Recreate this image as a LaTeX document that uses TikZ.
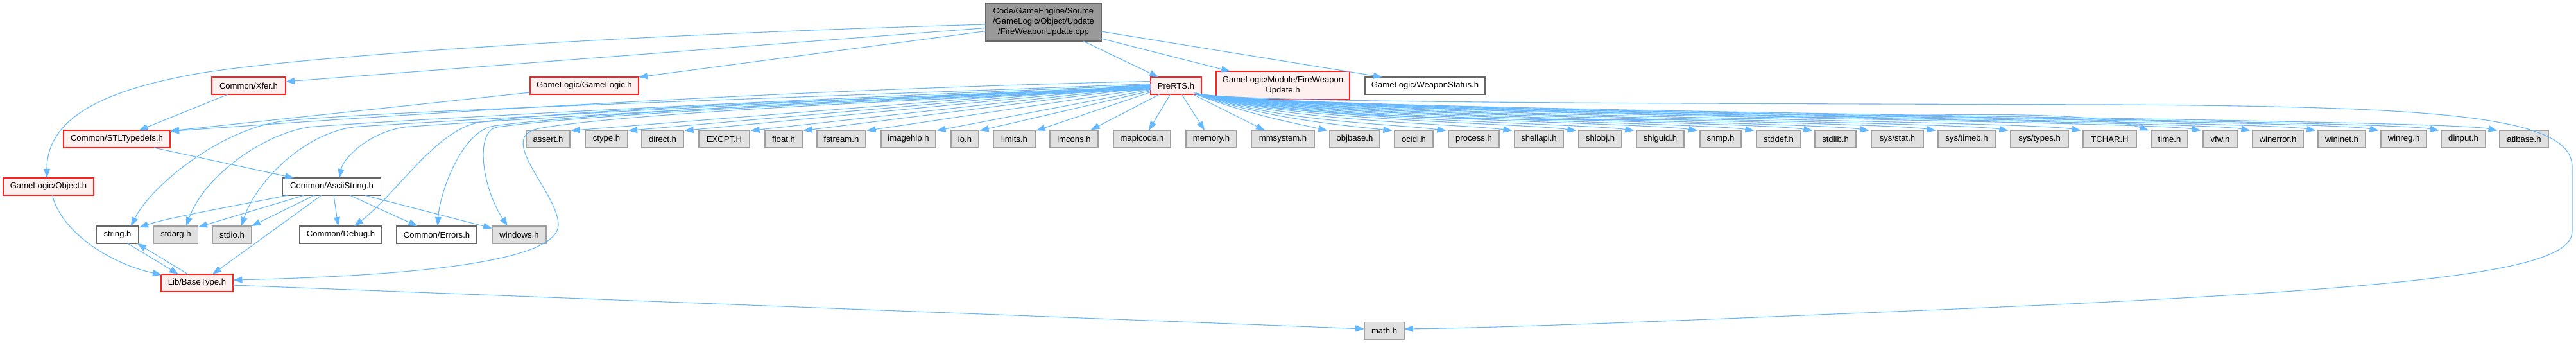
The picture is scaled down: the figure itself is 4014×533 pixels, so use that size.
\documentclass[tikz,border=0pt]{standalone}
\usepackage{fontspec}
\newfontfamily\nf{Liberation Sans}
\usetikzlibrary{arrows.meta}
\definecolor{ecol}{HTML}{63B8FF}
\definecolor{nred}{HTML}{FF2020}
\definecolor{nredfill}{HTML}{FFF0F0}
\definecolor{ngray}{HTML}{A0A0A0}
\definecolor{ngrayfill}{HTML}{E0E0E0}
\definecolor{ndark}{HTML}{666666}
\definecolor{nmain}{HTML}{999999}
\tikzset{
  box/.style={draw, line width=1.2pt, minimum height=27pt, inner sep=0pt, anchor=center,
    font=\nf\fontsize{13.1}{16}\selectfont, align=center},
  redbox/.style={box, draw=nred, fill=nredfill},
  graybox/.style={box, draw=ngray, fill=ngrayfill},
  whitebox/.style={box, draw=ndark, fill=white},
  mainbox/.style={box, draw=ndark, fill=nmain},
  dep/.style={draw=ecol, line width=1.1pt, -{Triangle[length=14pt,width=10pt]}},
}
\begin{document}
\begin{tikzpicture}[x=1pt,y=-1pt]
\fill[white] (0,0) rectangle (4014,533);
\useasboundingbox (0,0) rectangle (4014,533);

% nodes
\node[mainbox, minimum width=180pt, minimum height=59pt] (main) at (1626,34.5) {Code/GameEngine/Source\\/GameLogic/Object/Update\\/FireWeaponUpdate.cpp};
\node[redbox, minimum width=115pt] (xfer) at (387.5,133.5) {Common/Xfer.h};
\node[redbox, minimum width=169pt] (gl) at (910.5,133.5) {GameLogic/GameLogic.h};
\node[redbox, minimum width=79pt] (prerts) at (1832.5,133.5) {PreRTS.h};
\node[redbox, minimum width=208pt, minimum height=44pt] (fwu) at (1999,133) {GameLogic/Module/FireWeapon\\Update.h};
\node[whitebox, minimum width=187pt] (ws) at (2220.5,133.5) {GameLogic/WeaponStatus.h};

\node[redbox, minimum width=166pt] (stl) at (182,216.5) {Common/STLTypedefs.h};
\node[graybox, minimum width=68pt] (assert) at (854,216.5) {assert.h};
\node[graybox, minimum width=65pt] (ctype) at (945,216.5) {ctype.h};
\node[graybox, minimum width=65pt] (direct) at (1032.5,216.5) {direct.h};
\node[graybox, minimum width=79pt] (excpt) at (1128.5,216.5) {EXCPT.H};
\node[graybox, minimum width=58pt] (float) at (1221,216.5) {float.h};
\node[graybox, minimum width=76pt] (fstream) at (1311,216.5) {fstream.h};
\node[graybox, minimum width=85pt] (imagehlp) at (1415.5,216.5) {imagehlp.h};
\node[graybox, minimum width=43pt] (io) at (1503.5,216.5) {io.h};
\node[graybox, minimum width=65pt] (limits) at (1580.5,216.5) {limits.h};
\node[graybox, minimum width=75pt] (lmcons) at (1673.5,216.5) {lmcons.h};
\node[graybox, minimum width=89pt] (mapicode) at (1779.5,216.5) {mapicode.h};
\node[graybox, minimum width=79pt] (memory) at (1887.5,216.5) {memory.h};
\node[graybox, minimum width=98pt] (mmsystem) at (1999,216.5) {mmsystem.h};
\node[graybox, minimum width=78pt] (objbase) at (2111,216.5) {objbase.h};
\node[graybox, minimum width=60pt] (ocidl) at (2203,216.5) {ocidl.h};
\node[graybox, minimum width=79pt] (process) at (2296.5,216.5) {process.h};
\node[graybox, minimum width=76pt] (shellapi) at (2398,216.5) {shellapi.h};
\node[graybox, minimum width=67pt] (shlobj) at (2493.5,216.5) {shlobj.h};
\node[graybox, minimum width=74pt] (shlguid) at (2587,216.5) {shlguid.h};
\node[graybox, minimum width=64pt] (snmp) at (2681,216.5) {snmp.h};
\node[graybox, minimum width=69pt] (stddef) at (2771.5,216.5) {stddef.h};
\node[graybox, minimum width=64pt] (stdlib) at (2860,216.5) {stdlib.h};
\node[graybox, minimum width=81pt] (sysstat) at (2956.5,216.5) {sys/stat.h};
\node[graybox, minimum width=89pt] (systimeb) at (3064.5,216.5) {sys/timeb.h};
\node[graybox, minimum width=90pt] (systypes) at (3178,216.5) {sys/types.h};
\node[graybox, minimum width=83pt] (tchar) at (3287.5,216.5) {TCHAR.H};
\node[graybox, minimum width=57pt] (time) at (3380.5,216.5) {time.h};
\node[graybox, minimum width=53pt] (vfw) at (3459.5,216.5) {vfw.h};
\node[graybox, minimum width=79pt] (winerror) at (3549.5,216.5) {winerror.h};
\node[graybox, minimum width=74pt] (wininet) at (3649,216.5) {wininet.h};
\node[graybox, minimum width=71pt] (winreg) at (3745.5,216.5) {winreg.h};
\node[graybox, minimum width=69pt] (dinput) at (3838.5,216.5) {dinput.h};
\node[graybox, minimum width=76pt] (atlbase) at (3933,216.5) {atlbase.h};

\node[redbox, minimum width=141pt] (obj) at (75.5,290.5) {GameLogic/Object.h};
\node[whitebox, minimum width=153pt] (ascii) at (517,290.5) {Common/AsciiString.h};

\node[whitebox, minimum width=65pt] (string) at (183,365.5) {string.h};
\node[graybox, minimum width=69pt] (stdarg) at (274,365.5) {stdarg.h};
\node[graybox, minimum width=61pt] (stdio) at (361.5,365.5) {stdio.h};
\node[whitebox, minimum width=128pt] (debug) at (531,365.5) {Common/Debug.h};
\node[whitebox, minimum width=125pt] (errors) at (680.5,365.5) {Common/Errors.h};
\node[graybox, minimum width=84pt] (windows) at (809,365.5) {windows.h};

\node[redbox, minimum width=112pt] (basetype) at (307,440.5) {Lib/BaseType.h};
\node[graybox, minimum width=62pt] (math) at (2157,515) {math.h};

% edges from main
\draw[dep] ([shift={(-90,3.5)}]main.center) .. controls (900,56) and (430,92) .. (300,116) .. controls (170,140) and (73,180) .. ([shift={(-2.5,-13.5)}]obj.center);
\draw[dep] ([shift={(-90,9)}]main.center) -- ([shift={(57.5,-6.5)}]xfer.center);
\draw[dep] ([shift={(-90,14)}]main.center) -- ([shift={(84.5,-13.5)}]gl.center);
\draw[dep] ([shift={(62,29.5)}]main.center) -- ([shift={(-27.5,-13.5)}]prerts.center);
\draw[dep] ([shift={(90,25.5)}]main.center) -- ([shift={(-82,-22)}]fwu.center);
\draw[dep] ([shift={(90,14.5)}]main.center) -- ([shift={(-66.5,-13.5)}]ws.center);

\draw[dep] ([shift={(-32.5,13.5)}]xfer.center) -- ([shift={(34.5,-13.5)}]stl.center);
\draw[dep] ([shift={(-84.5,10.5)}]gl.center) -- ([shift={(83,-12.5)}]stl.center);
\draw[dep] ([shift={(58,13.5)}]stl.center) -- ([shift={(-59,-13.5)}]ascii.center);

% AsciiString
\draw[dep] ([shift={(-68,13.5)}]ascii.center) .. controls (380,318) and (265,338) .. ([shift={(34,-11.5)}]string.center);
\draw[dep] ([shift={(-43,13.5)}]ascii.center) -- ([shift={(35,-12)}]stdarg.center);
\draw[dep] ([shift={(-27,13.5)}]ascii.center) -- ([shift={(30.5,-13.5)}]stdio.center);
\draw[dep] ([shift={(-16,13.5)}]ascii.center) -- ([shift={(24,-13.5)}]basetype.center);
\draw[dep] ([shift={(3,13.5)}]ascii.center) -- ([shift={(-4,-13.5)}]debug.center);
\draw[dep] ([shift={(28,13.5)}]ascii.center) -- ([shift={(-30,-13.5)}]errors.center);
\draw[dep] ([shift={(51,13.5)}]ascii.center) -- ([shift={(-42,-10)}]windows.center);

\draw[dep] ([shift={(16,13.5)}]string.center) -- ([shift={(-29,-13.5)}]basetype.center);
\draw[dep] ([shift={(-14,-13.5)}]basetype.center) -- ([shift={(31,13.5)}]string.center);
\draw[dep] ([shift={(6,13.5)}]obj.center) .. controls (95,360) and (170,410) .. ([shift={(-55,-12.5)}]basetype.center);
\draw[dep] ([shift={(56,3.5)}]basetype.center) -- ([shift={(-31,-3)}]math.center);

% PreRTS to the left
\draw[dep] ([shift={(-39.5,-7)}]prerts.center) .. controls (1200,140) and (600,180) .. ([shift={(83,-12)}]stl.center);
\draw[dep] ([shift={(-39.5,-3)}]prerts.center) .. controls (1300,150) and (600,172) .. (446,188) .. controls (346,198) and (235,290) .. ([shift={(21,-13.5)}]string.center);
\draw[dep] ([shift={(-39.5,-1)}]prerts.center) .. controls (1300,152) and (700,182) .. (491,197) .. controls (420,202) and (320,270) .. ([shift={(16,-13.5)}]stdarg.center);
\draw[dep] ([shift={(-39.5,1)}]prerts.center) .. controls (1300,154) and (750,185) .. (560,197) .. controls (480,202) and (400,280) .. ([shift={(14.5,-13.5)}]stdio.center);
\draw[dep] ([shift={(-39.5,2)}]prerts.center) .. controls (1300,156) and (800,186) .. (640,197) .. controls (580,201) and (535,245) .. ([shift={(12,-13.5)}]ascii.center);
\draw[dep] ([shift={(-39.5,3)}]prerts.center) .. controls (1300,155) and (900,170) .. (750,190) .. controls (680,200) and (620,300) .. ([shift={(21,-13.5)}]debug.center);
\draw[dep] ([shift={(-39.5,4)}]prerts.center) .. controls (1300,156) and (900,178) .. (770,196) .. controls (720,203) and (685,300) .. ([shift={(1.5,-13.5)}]errors.center);
\draw[dep] ([shift={(-39.5,5)}]prerts.center) .. controls (1300,158) and (900,180) .. (775,198) .. controls (740,203) and (750,290) .. ([shift={(-18,-13.5)}]windows.center);
\draw[dep] ([shift={(-39.5,6)}]prerts.center) .. controls (1300,160) and (950,180) .. (840,200) .. controls (770,213) and (870,300) .. (870,350) .. controls (870,400) and (700,428) .. ([shift={(56.5,-4.5)}]basetype.center);

\draw[dep] ([shift={(-39.5,-2)}]prerts.center) -- ([shift={(1,1)}]assert.north east);
\draw[dep] ([shift={(-39.5,-1)}]prerts.center) -- ([shift={(1,1)}]ctype.north east);
\draw[dep] ([shift={(-39.5,0)}]prerts.center) -- ([shift={(1,1)}]direct.north east);
\draw[dep] ([shift={(-39.5,1)}]prerts.center) -- ([shift={(1,1)}]excpt.north east);
\draw[dep] ([shift={(-39.5,2)}]prerts.center) -- ([shift={(1,1)}]float.north east);
\draw[dep] ([shift={(-39.5,4)}]prerts.center) -- ([shift={(1,1)}]fstream.north east);
\draw[dep] ([shift={(-39.5,6)}]prerts.center) -- ([shift={(1,1)}]imagehlp.north east);
\draw[dep] ([shift={(-39.5,8)}]prerts.center) -- ([shift={(1,1)}]io.north east);
\draw[dep] ([shift={(-39.5,10)}]prerts.center) -- ([shift={(1,1)}]limits.north east);
\draw[dep] ([shift={(-26,13.5)}]prerts.center) -- ([shift={(26,-14)}]lmcons.center);
\draw[dep] ([shift={(-9,13.5)}]prerts.center) -- ([shift={(10.5,-13.5)}]mapicode.center);
\draw[dep] ([shift={(9,13.5)}]prerts.center) -- ([shift={(-10.5,-13.5)}]memory.center);
\draw[dep] ([shift={(26.5,13.5)}]prerts.center) -- ([shift={(-28,-13.5)}]mmsystem.center);

% PreRTS to the right
\draw[dep] ([shift={(30,13)}]prerts.center) .. controls (1950,180) and (2020,192) .. ([shift={(-3,1)}]objbase.north west);
\draw[dep] ([shift={(31,12.5)}]prerts.center) .. controls (1960,182) and (2080,194) .. ([shift={(-3,1)}]ocidl.north west);
\draw[dep] ([shift={(32,12)}]prerts.center) .. controls (1990,190) and (2164,192) .. ([shift={(-3,1)}]process.north west);
\draw[dep] ([shift={(32,12)}]prerts.center) .. controls (1990,189) and (2267,192) .. ([shift={(-3,1)}]shellapi.north west);
\draw[dep] ([shift={(32,12)}]prerts.center) .. controls (1990,188) and (2367,191) .. ([shift={(-3,1)}]shlobj.north west);
\draw[dep] ([shift={(32,12)}]prerts.center) .. controls (1990,187) and (2457,191) .. ([shift={(-3,1)}]shlguid.north west);
\draw[dep] ([shift={(32,12)}]prerts.center) .. controls (1990,186) and (2556,190) .. ([shift={(-3,1)}]snmp.north west);
\draw[dep] ([shift={(32,12)}]prerts.center) .. controls (1990,185) and (2644,190) .. ([shift={(-3,1)}]stddef.north west);
\draw[dep] ([shift={(32,12)}]prerts.center) .. controls (1990,184) and (2735,189) .. ([shift={(-3,1)}]stdlib.north west);
\draw[dep] ([shift={(32,12)}]prerts.center) .. controls (1990,183) and (2823,189) .. ([shift={(-3,1)}]sysstat.north west);
\draw[dep] ([shift={(32,12)}]prerts.center) .. controls (1990,182) and (2927,188) .. ([shift={(-3,1)}]systimeb.north west);
\draw[dep] ([shift={(32,12)}]prerts.center) .. controls (1990,181) and (3040,188) .. ([shift={(-3,1)}]systypes.north west);
\draw[dep] ([shift={(32,12)}]prerts.center) .. controls (1990,180) and (3153,187) .. ([shift={(-3,1)}]tchar.north west);
\draw[dep] ([shift={(32,12)}]prerts.center) .. controls (1990,186) and (2400,190) .. (2700,185) .. controls (3000,180) and (3250,168) .. ([shift={(-3,1)}]time.north west);
\draw[dep] ([shift={(32,12)}]prerts.center) .. controls (1990,179) and (3340,187) .. ([shift={(-3,1)}]vfw.north west);
\draw[dep] ([shift={(32,12)}]prerts.center) .. controls (1990,178) and (3417,186) .. ([shift={(-3,1)}]winerror.north west);
\draw[dep] ([shift={(32,12)}]prerts.center) .. controls (1990,177) and (3519,186) .. ([shift={(-3,1)}]wininet.north west);
\draw[dep] ([shift={(32,12)}]prerts.center) .. controls (1990,176) and (3617,185) .. ([shift={(-3,1)}]winreg.north west);
\draw[dep] ([shift={(32,12)}]prerts.center) .. controls (1990,175) and (3711,185) .. ([shift={(-3,1)}]dinput.north west);
\draw[dep] ([shift={(32,12)}]prerts.center) .. controls (1990,174) and (3802,184) .. ([shift={(-3,1)}]atlbase.north west);

\draw[dep] ([shift={(28,11)}]prerts.center) .. controls (1900,160) and (2500,161) .. (3300,163) .. controls (3800,166) and (4008,180) .. (4008,260) -- (4008,360) .. controls (4008,420) and (3800,450) .. (3000,483) .. controls (2600,500) and (2350,510) .. ([shift={(31,-3)}]math.center);
\end{tikzpicture}
\end{document}
